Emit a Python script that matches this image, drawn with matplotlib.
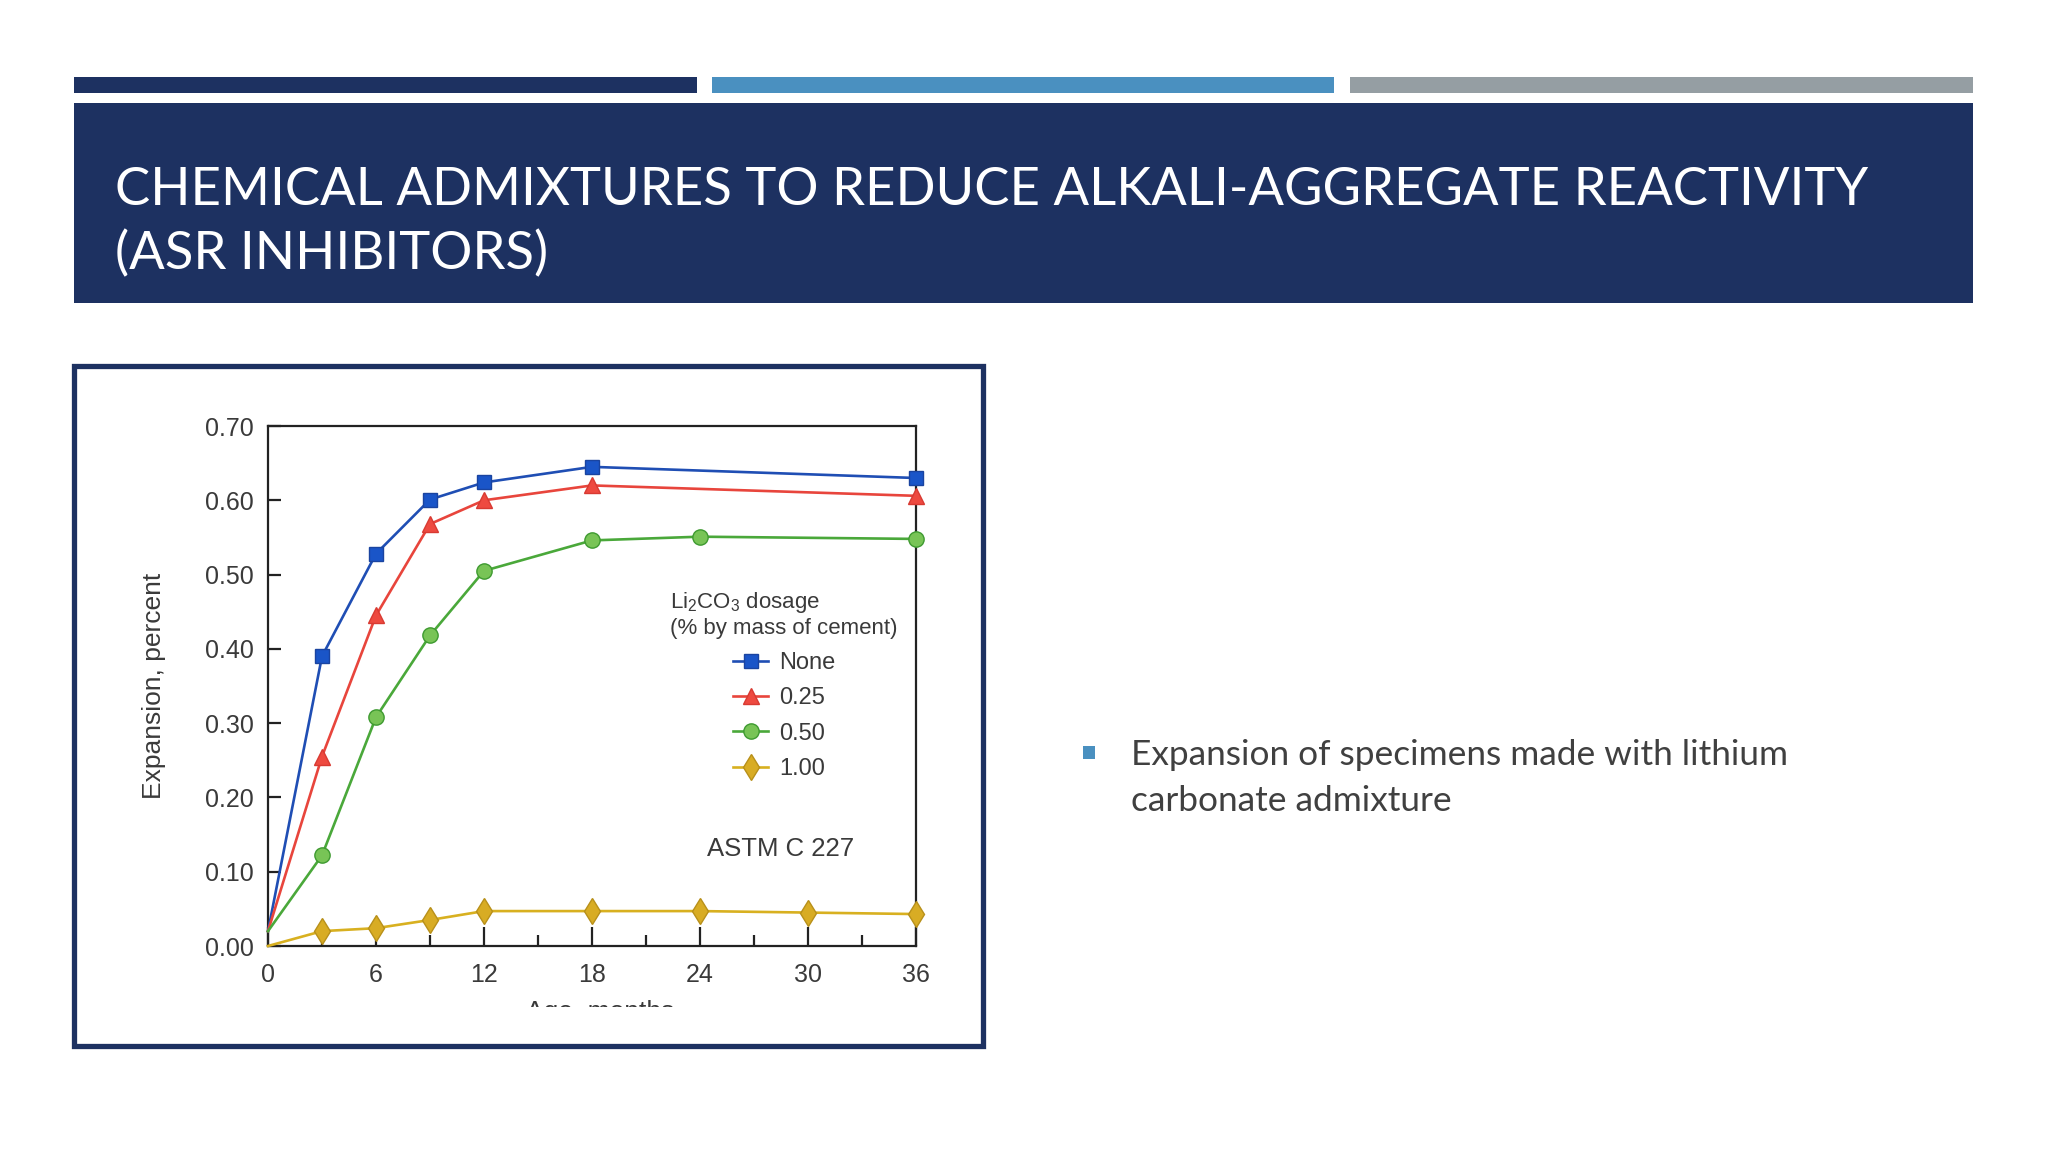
import matplotlib
matplotlib.use('Agg')
import matplotlib.pyplot as plt
from matplotlib.patches import Rectangle
from matplotlib.lines import Line2D
from matplotlib.transforms import Bbox

plt.rcParams['mathtext.fontset'] = 'custom'
plt.rcParams['mathtext.rm'] = 'Liberation Sans'
plt.rcParams['mathtext.it'] = 'Liberation Sans:italic'

# ---------------- data ----------------
title_lines = ["CHEMICAL ADMIXTURES TO REDUCE ALKALI-AGGREGATE REACTIVITY",
               "(ASR INHIBITORS)"]
bullet_lines = ["Expansion of specimens made with lithium",
                "carbonate admixture"]

series_labels = ["None", "0.25", "0.50", "1.00"]
age_none = [0, 3, 6, 9, 12, 18, 36]
exp_none = [0.02, 0.39, 0.528, 0.601, 0.624, 0.645, 0.630]
age_025 = [0, 3, 6, 9, 12, 18, 36]
exp_025 = [0.02, 0.255, 0.445, 0.568, 0.600, 0.620, 0.606]
age_050 = [0, 3, 6, 9, 12, 18, 24, 36]
exp_050 = [0.02, 0.122, 0.308, 0.418, 0.505, 0.546, 0.551, 0.548]
age_100 = [0, 3, 6, 9, 12, 18, 24, 30, 36]
exp_100 = [0.0, 0.020, 0.024, 0.035, 0.047, 0.047, 0.047, 0.045, 0.043]

x_major = [0, 6, 12, 18, 24, 30, 36]
x_minor = [3, 9, 15, 21, 27, 33]
y_ticks = [0.0, 0.1, 0.2, 0.3, 0.4, 0.5, 0.6, 0.7]
y_ticklabels = ["0.00", "0.10", "0.20", "0.30", "0.40", "0.50", "0.60", "0.70"]

# ---------------- figure ----------------
W, H = 2048, 1152
fig = plt.figure(figsize=(W / 100, H / 100), dpi=100)
fig.patch.set_facecolor('white')


def fx(x):
    return x / W


def fy(y):
    return 1 - y / H


def rect(x0, y0, x1, y1, **kw):
    r = Rectangle((fx(x0), fy(y1)), (x1 - x0) / W, (y1 - y0) / H,
                  transform=fig.transFigure, **kw)
    fig.add_artist(r)
    return r


NAVY = '#1d3161'
# top colour bars
rect(74, 77, 697, 93, facecolor=NAVY, edgecolor='none')
rect(712, 77, 1334, 93, facecolor='#4a90c0', edgecolor='none')
rect(1350, 77, 1973, 93, facecolor='#959ea3', edgecolor='none')
# title box
rect(74, 103, 1973, 303, facecolor=NAVY, edgecolor='none')

TFONT = ['Lato', 'DejaVu Sans']
canvas = fig.canvas


def fit_text(x, y, s, target_w, base=40, **kw):
    t = fig.text(fx(x), fy(y), s, fontsize=base, **kw)
    r = canvas.get_renderer()
    w = t.get_window_extent(r).width
    t.set_fontsize(base * target_w / w)
    return t


t1 = fit_text(115, 205, title_lines[0], 1750, color='white', family=TFONT,
              va='baseline', ha='left')
fs_title = t1.get_fontsize()
fig.text(fx(115), fy(269), title_lines[1], fontsize=fs_title, color='white',
         family=TFONT, va='baseline', ha='left')

# bullet
rect(1083, 746, 1095, 759, facecolor='#4a90c0', edgecolor='none')
b1 = fit_text(1131, 765, bullet_lines[0], 657, color='#404040', family=TFONT,
              va='baseline', ha='left')
fig.text(fx(1131), fy(811), bullet_lines[1], fontsize=b1.get_fontsize(),
         color='#404040', family=TFONT, va='baseline', ha='left')

# chart picture frame
rect(74, 366, 983, 1046, facecolor='white', edgecolor=NAVY, linewidth=3.8,
     zorder=-5)

# ---------------- axes ----------------
CFONT = 'Liberation Sans'
TXT = '#3a3a3a'
ax = fig.add_axes([fx(268), fy(946), (916 - 268) / W, (946 - 426) / H])
ax.set_zorder(5)
ax.set_facecolor('white')
ax.set_xlim(0, 36)
ax.set_ylim(0, 0.70)
for s in ax.spines.values():
    s.set_linewidth(1.6)
    s.set_color('#222222')

ax.set_xticks(x_major)
ax.set_xticks(x_minor, minor=True)
ax.set_yticks(y_ticks)
ax.set_yticklabels(y_ticklabels)
ax.tick_params(axis='x', which='major', direction='in', length=14, width=1.6,
               pad=12, labelsize=18, labelcolor=TXT, color='#222222')
ax.tick_params(axis='x', which='minor', direction='in', length=8, width=1.6,
               color='#222222')
ax.tick_params(axis='y', direction='in', length=9, width=1.6, pad=10,
               labelsize=18, labelcolor=TXT, color='#222222')
for lab in ax.get_xticklabels() + ax.get_yticklabels():
    lab.set_family(CFONT)

styles = [
    dict(color='#1f4eb4', marker='s', ms=10.5, mfc='#1a55c8', mec='#1a44a0'),
    dict(color='#e8453c', marker='^', ms=11.5, mfc='#ee4a40', mec='#d83a32'),
    dict(color='#4aa83a', marker='o', ms=11, mfc='#78c456', mec='#3e9a30'),
    dict(color='#d8b020', marker='d', ms=13.5, mfc='#d8ac24', mec='#b8901a'),
]
data = [(age_none, exp_none), (age_025, exp_025), (age_050, exp_050),
        (age_100, exp_100)]
handles = []
for (xs, ys), st, lab in zip(data, styles, series_labels):
    ln, = ax.plot(xs, ys, linewidth=1.9, markevery=list(range(1, len(xs))),
                  clip_on=False, zorder=3, label=lab, **st)
    handles.append(Line2D([], [], linewidth=1.9, **st))

leg = ax.legend(handles, series_labels,
                title='Li$\\mathregular{_2}$CO$\\mathregular{_3}$ dosage\n(% by mass of cement)',
                loc='upper center', bbox_to_anchor=(fx(784), fy(578)),
                bbox_transform=fig.transFigure, frameon=False, borderpad=0,
                fontsize=17, title_fontsize=16, labelspacing=0.56,
                handlelength=1.5, handletextpad=0.45)
for t in leg.get_texts():
    t.set_family(CFONT)
    t.set_color(TXT)
leg.get_title().set_family(CFONT)
leg.get_title().set_color(TXT)

ax.text(fx(781), fy(849), 'ASTM C 227', transform=fig.transFigure,
        fontsize=18.5, family=CFONT, color=TXT, ha='center', va='center')

ax.set_ylabel('Expansion, percent', fontsize=19, family=CFONT, color=TXT,
              labelpad=28)

# x label cut off by the picture edge
xl = fig.text(fx(600), fy(1012), 'Age, months', fontsize=19, family=CFONT,
              color=TXT, ha='center', va='center')
xl.set_clip_box(Bbox([[fx(80) * W, (fy(1007)) * H], [fx(980) * W, fy(370) * H]]))
xl.set_clip_on(True)

fig.savefig('out.png', dpi=100, facecolor='white')
